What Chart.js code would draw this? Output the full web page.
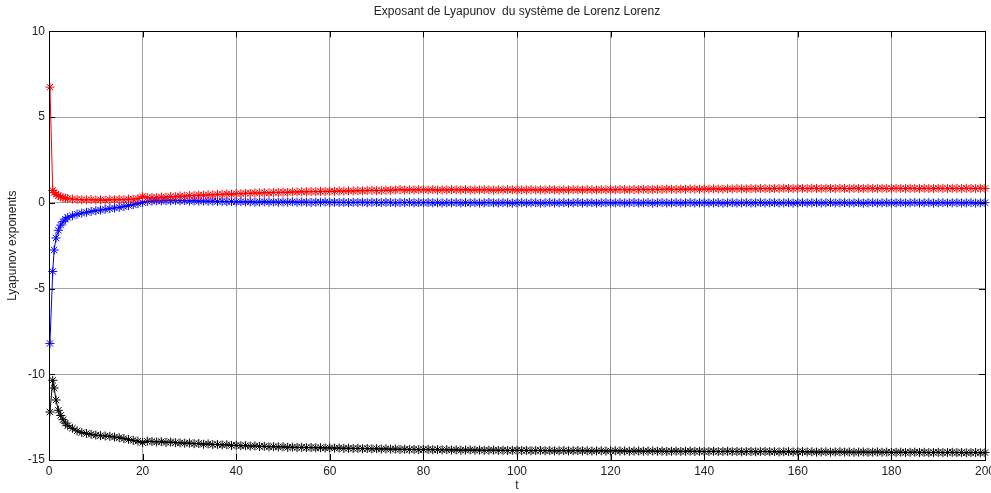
<!DOCTYPE html>
<html>
<head>
<meta charset="utf-8">
<script src="https://cdn.jsdelivr.net/npm/chart.js@4"></script>
<style>
html,body{margin:0;padding:0;background:#fff;}
canvas{display:block;}
</style>
</head>
<body>
<canvas id="c" width="991" height="493"></canvas>
<script>
const titleText = "Exposant de Lyapunov  du système de Lorenz Lorenz";
const xLabel = "t";
const yLabel = "Lyapunov exponents";
const xTicks = [0,20,40,60,80,100,120,140,160,180,200];
const yTicks = [-15,-10,-5,0,5,10];

const t = [0.2,0.8,1.1,1.5,2,2.5,3,3.5,4,
5,6,7,8,9,10,11,12,13,14,15,16,17,18,19,20,
21,22,23,24,25,26,27,28,29,30,31,32,33,34,35,36,37,38,39,40,
41,42,43,44,45,46,47,48,49,50,51,52,53,54,55,56,57,58,59,60,
61,62,63,64,65,66,67,68,69,70,71,72,73,74,75,76,77,78,79,80,
81,82,83,84,85,86,87,88,89,90,91,92,93,94,95,96,97,98,99,100,
101,102,103,104,105,106,107,108,109,110,111,112,113,114,115,116,117,118,119,120,
121,122,123,124,125,126,127,128,129,130,131,132,133,134,135,136,137,138,139,140,
141,142,143,144,145,146,147,148,149,150,151,152,153,154,155,156,157,158,159,160,
161,162,163,164,165,166,167,168,169,170,171,172,173,174,175,176,177,178,179,180,
181,182,183,184,185,186,187,188,189,190,191,192,193,194,195,196,197,198,199,200];

const lambda1 = [6.75,0.72,0.6,0.5,0.42,0.35,0.3,0.27,0.25,
0.22,0.2,0.18,0.17,0.19,0.16,0.18,0.15,0.19,0.17,0.2,0.18,0.22,0.21,0.25,0.38,
0.3,0.32,0.3,0.34,0.33,0.37,0.36,0.4,0.39,0.43,0.42,0.45,0.44,0.47,0.46,0.5,0.49,0.52,0.5,0.54,
0.53,0.56,0.55,0.58,0.57,0.6,0.58,0.61,0.6,0.62,
0.61,0.64,0.63,0.65,0.64,0.66,0.65,0.67,0.66,0.68,
0.67,0.69,0.68,0.7,0.69,0.71,0.7,0.72,0.73,0.71,
0.72,0.74,0.73,0.75,0.78,0.74,0.76,0.75,0.77,0.76,
0.75,0.77,0.74,0.76,0.75,0.77,0.76,0.75,0.77,0.74,
0.76,0.75,0.77,0.76,0.74,0.76,0.75,0.77,0.76,0.75,
0.76,0.74,0.77,0.75,0.76,0.75,0.77,0.76,0.74,0.76,
0.75,0.77,0.76,0.75,0.77,0.76,0.75,0.77,0.76,0.77,
0.76,0.78,0.77,0.76,0.78,0.77,0.79,0.78,0.77,0.79,
0.78,0.8,0.79,0.78,0.8,0.79,0.81,0.8,0.79,0.81,
0.8,0.82,0.81,0.8,0.82,0.81,0.83,0.82,0.81,0.83,
0.82,0.84,0.83,0.82,0.84,0.83,0.85,0.84,0.83,0.85,
0.84,0.83,0.85,0.84,0.83,0.85,0.84,0.83,0.85,0.84,
0.83,0.85,0.84,0.83,0.85,0.84,0.83,0.85,0.84,0.83,
0.85,0.84,0.83,0.85,0.84,0.83,0.85,0.84,0.83,0.85,
0.84,0.83,0.85,0.84,0.83,0.85,0.84,0.83,0.85,0.84];

const lambda2 = [-8.2,-4.0,-2.75,-2.05,-1.6,-1.3,-1.1,-0.95,-0.85,
-0.75,-0.66,-0.6,-0.55,-0.5,-0.46,-0.42,-0.38,-0.34,-0.3,-0.26,-0.21,-0.16,-0.11,-0.05,0.02,
0.08,0.1,0.12,0.11,0.13,0.12,0.14,0.12,0.13,0.11,
0.12,0.1,0.11,0.09,0.1,0.08,0.09,0.07,0.08,0.06,
0.07,0.05,0.06,0.04,0.05,0.06,0.04,0.05,0.03,0.05,
0.04,0.06,0.03,0.05,0.04,0.02,0.04,0.03,0.05,0.02,
0.04,0.02,0.03,0.01,0.03,0.02,0.04,0.01,0.03,0.02,
0.01,0.03,0.02,0.0,0.02,0.01,0.03,0.0,0.02,0.01,
0.02,0.0,0.01,-0.01,0.01,0.0,0.02,-0.01,0.01,0.0,
0.01,-0.01,0.0,0.02,0.0,-0.01,0.01,0.0,-0.02,0.0,
0.01,-0.01,0.0,0.01,-0.02,0.0,0.01,-0.01,0.0,0.01,
-0.01,0.0,0.02,-0.01,0.0,0.01,-0.02,0.0,0.01,-0.01,
0.0,0.01,-0.01,0.0,0.02,-0.01,0.0,0.01,-0.02,0.0,
0.01,-0.01,0.0,0.01,-0.01,0.0,0.02,-0.01,0.0,0.01,
-0.01,0.0,0.01,-0.02,0.0,0.01,-0.01,0.0,0.01,-0.01,
0.0,0.02,-0.01,0.0,0.01,-0.01,0.0,0.01,-0.02,0.0,
0.01,-0.01,0.0,0.01,-0.01,0.0,0.02,-0.01,0.0,0.01,
-0.01,0.0,0.01,-0.02,0.0,0.01,-0.01,0.0,0.01,-0.01,
0.0,0.01,-0.01,0.0,0.02,-0.01,0.0,0.01,-0.02,0.0,
0.01,-0.01,0.0,0.01,-0.01,0.0,0.01,-0.02,0.0,0.01];

const lambda3 = [-12.2,-10.35,-10.8,-11.5,-12.1,-12.4,-12.65,-12.85,-13.0,
-13.15,-13.3,-13.4,-13.45,-13.5,-13.55,-13.58,-13.6,-13.62,-13.66,-13.7,-13.75,-13.8,-13.85,-13.9,-13.98,-13.9,
-13.92,-13.95,-13.93,-13.97,-13.95,-13.99,-14.0,-14.02,-14.01,
-14.05,-14.04,-14.08,-14.06,-14.1,-14.09,-14.12,-14.11,-14.15,-14.14,
-14.17,-14.16,-14.19,-14.18,-14.21,-14.2,-14.23,-14.22,-14.24,-14.23,
-14.26,-14.25,-14.27,-14.26,-14.28,-14.27,-14.29,-14.28,-14.3,-14.29,
-14.31,-14.3,-14.32,-14.31,-14.33,-14.32,-14.34,-14.33,-14.35,-14.34,
-14.36,-14.35,-14.37,-14.36,-14.38,-14.37,-14.39,-14.38,-14.4,-14.39,
-14.38,-14.4,-14.39,-14.41,-14.4,-14.42,-14.41,-14.43,-14.42,-14.41,
-14.43,-14.42,-14.44,-14.43,-14.42,-14.44,-14.43,-14.45,-14.44,-14.43,
-14.45,-14.44,-14.46,-14.45,-14.44,-14.46,-14.45,-14.47,-14.46,-14.45,
-14.47,-14.46,-14.45,-14.47,-14.46,-14.48,-14.47,-14.46,-14.48,-14.47,
-14.46,-14.48,-14.47,-14.49,-14.48,-14.47,-14.49,-14.48,-14.47,-14.49,
-14.48,-14.5,-14.49,-14.48,-14.5,-14.49,-14.48,-14.5,-14.49,-14.51,
-14.5,-14.49,-14.51,-14.5,-14.49,-14.51,-14.5,-14.52,-14.51,-14.5,
-14.52,-14.51,-14.5,-14.52,-14.51,-14.53,-14.52,-14.51,-14.53,-14.52,
-14.51,-14.53,-14.52,-14.54,-14.53,-14.52,-14.54,-14.53,-14.52,-14.54,
-14.53,-14.55,-14.54,-14.53,-14.55,-14.54,-14.53,-14.55,-14.54,-14.56,
-14.55,-14.54,-14.56,-14.55,-14.54,-14.56,-14.55,-14.57,-14.56,-14.55,
-14.57,-14.56,-14.55,-14.57,-14.56,-14.58,-14.57,-14.56,-14.58,-14.57];

const FONT = "'Liberation Sans', Arial, sans-serif";

function series(vals, color) {
  return {
    data: t.map((x, i) => ({x: x, y: vals[i]})),
    borderColor: color,
    backgroundColor: color,
    borderWidth: 1,
    pointStyle: 'star',
    pointRadius: 4.5,
    pointBorderWidth: 1,
    pointBorderColor: color,
    tension: 0,
    fill: false,
    clip: 8
  };
}

const boxPlugin = {
  id: 'box',
  afterDraw(chart) {
    const a = chart.chartArea, ctx = chart.ctx;
    const xs = chart.scales.x, ys = chart.scales.y;
    ctx.save();
    ctx.strokeStyle = '#000';
    ctx.lineWidth = 1;
    ctx.strokeRect(Math.round(a.left) + 0.5, Math.round(a.top) + 0.5,
      Math.round(a.right - a.left), Math.round(a.bottom - a.top));
    ctx.beginPath();
    const L = 6;
    xTicks.forEach(v => {
      const px = Math.round(xs.getPixelForValue(v)) + 0.5;
      ctx.moveTo(px, a.bottom); ctx.lineTo(px, a.bottom - L);
      ctx.moveTo(px, a.top); ctx.lineTo(px, a.top + L);
    });
    yTicks.forEach(v => {
      const py = Math.round(ys.getPixelForValue(v)) + 0.5;
      ctx.moveTo(a.left, py); ctx.lineTo(a.left + L, py);
      ctx.moveTo(a.right, py); ctx.lineTo(a.right - L, py);
    });
    ctx.stroke();
    ctx.restore();
  }
};

new Chart(document.getElementById('c'), {
  type: 'line',
  data: {
    datasets: [
      series(lambda1, '#ff0000'),
      series(lambda2, '#0000ff'),
      series(lambda3, '#000000')
    ]
  },
  options: {
    responsive: false,
    animation: false,
    layout: { padding: { left: 0, right: 6, top: 0, bottom: 0 } },
    plugins: {
      legend: { display: false },
      tooltip: { enabled: false },
      title: {
        display: true,
        text: titleText,
        fullSize: false,
        color: '#222',
        font: { family: FONT, size: 12, weight: 'normal' },
        padding: { top: 4, bottom: 13 }
      }
    },
    scales: {
      x: {
        type: 'linear',
        min: 0, max: 200,
        afterBuildTicks(scale) { scale.ticks = xTicks.map(v => ({value: v})); },
        afterFit(scale) { scale.height = 33; scale.paddingLeft = 0; scale.paddingRight = 0; },
        grid: { color: '#a0a0a0', lineWidth: 1, drawTicks: false },
        border: { display: false },
        ticks: { color: '#222', padding: 4, font: { family: FONT, size: 12 }, maxRotation: 0, autoSkip: false },
        title: { display: true, text: xLabel, color: '#222', padding: { top: 0, bottom: 0 }, font: { family: FONT, size: 12 } }
      },
      y: {
        type: 'linear',
        min: -15, max: 10,
        afterBuildTicks(scale) { scale.ticks = yTicks.map(v => ({value: v})); },
        afterFit(scale) { scale.width = 49; scale.paddingTop = 0; scale.paddingBottom = 0; },
        grid: { color: '#a0a0a0', lineWidth: 1, drawTicks: false },
        border: { display: false },
        ticks: { color: '#222', padding: 4, font: { family: FONT, size: 12 }, autoSkip: false },
        title: { display: true, text: yLabel, color: '#222', padding: { top: 5, bottom: 0 }, font: { family: FONT, size: 12 } }
      }
    }
  },
  plugins: [boxPlugin]
});
</script>
</body>
</html>
